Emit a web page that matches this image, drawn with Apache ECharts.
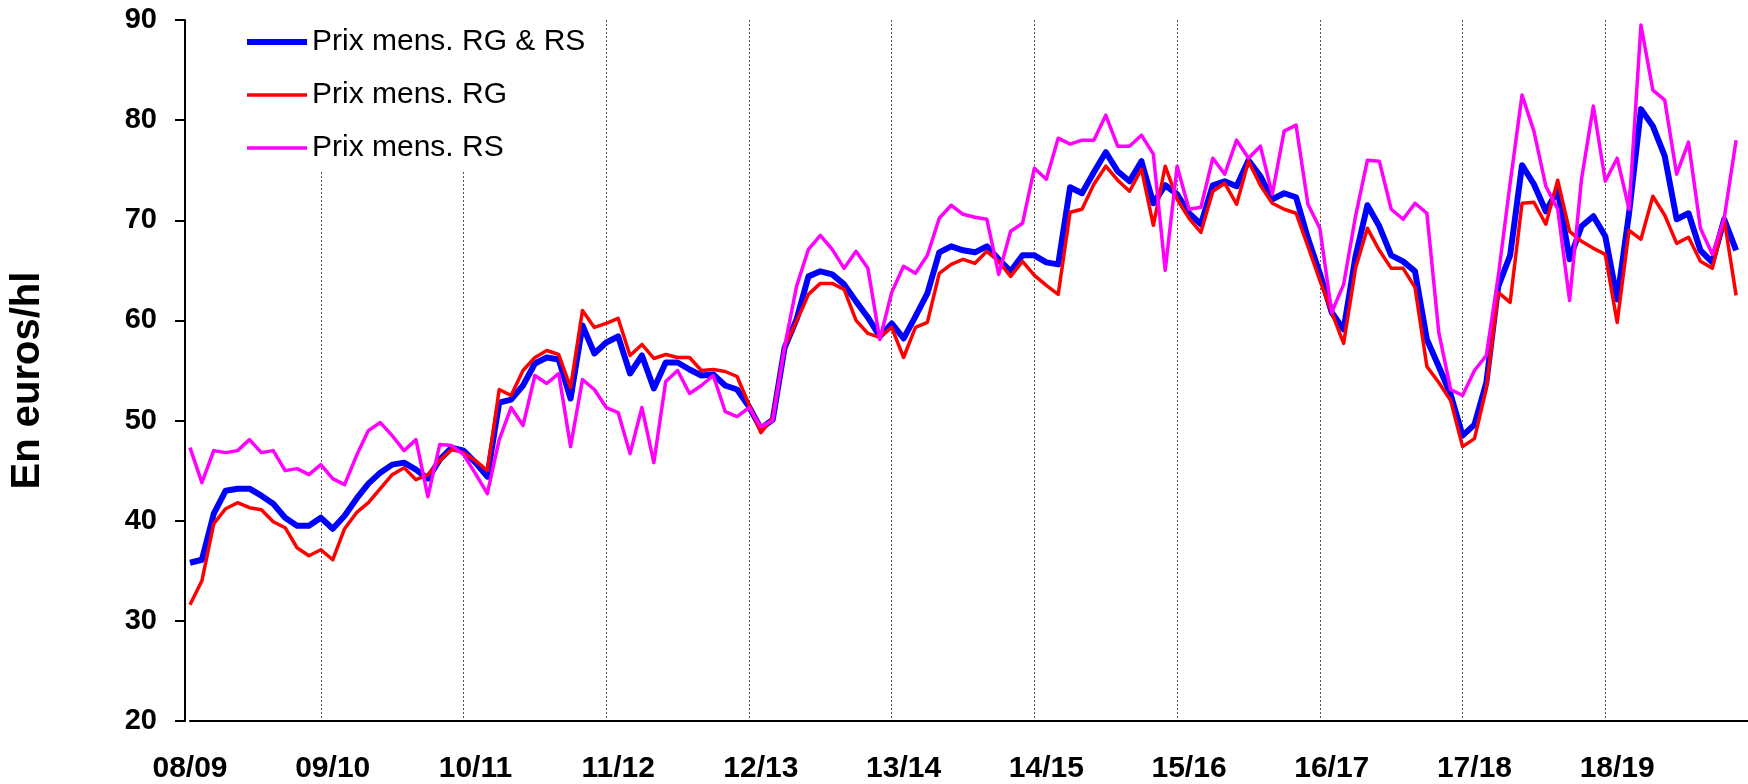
<!DOCTYPE html>
<html>
<head>
<meta charset="utf-8">
<title>Prix mensuels RG / RS</title>
<script src="https://cdn.jsdelivr.net/npm/echarts@6/dist/echarts.min.js"></script>
<style>
    html, body { margin: 0; padding: 0; background: #fff; }
    #chart-container { width: 1748px; height: 784px; }
</style>
</head>
<body>
<div id="chart-container"></div>
<script>
// Season labels shown on the x axis, one every 12 months
const seasons = ['08/09', '09/10', '10/11', '11/12', '12/13', '13/14', '14/15', '15/16', '16/17', '17/18', '18/19'];

// Monthly prices, euros/hl
const prixRgRs = [
    35.8, 36.1, 40.7, 43.0, 43.2, 43.2, 42.5, 41.7, 40.3, 39.5, 39.5, 40.3,
    39.2, 40.5, 42.2, 43.7, 44.8, 45.6, 45.8, 45.1, 44.2, 46.1, 47.3, 47.0,
    45.8, 44.4, 51.8, 52.1, 53.5, 55.7, 56.3, 56.1, 52.2, 59.5, 56.7, 57.8,
    58.4, 54.7, 56.5, 53.2, 55.8, 55.8, 55.1, 54.5, 54.6, 53.5, 53.1, 51.4,
    49.2, 50.1, 57.3, 60.1, 64.4, 64.9, 64.6, 63.6, 61.9, 60.3, 58.4, 59.7,
    58.2, 60.4, 62.7, 66.8, 67.4, 67.0, 66.8, 67.4, 66.1, 64.9, 66.5, 66.5,
    65.8, 65.6, 73.3, 72.7, 74.8, 76.8, 74.9, 73.9, 75.9, 71.7, 73.5, 72.6,
    70.7, 69.6, 73.5, 73.9, 73.4, 76.0, 74.4, 72.1, 72.7, 72.3, 68.2, 64.7,
    60.8, 59.1, 66.4, 71.5, 69.4, 66.5, 65.9, 64.9, 58.1, 55.4, 52.6, 48.5,
    49.6, 53.8, 63.4, 66.5, 75.5, 73.6, 70.9, 73.0, 66.1, 69.4, 70.4, 68.4,
    62.1, 70.7, 81.1, 79.4, 76.4, 70.1, 70.7, 67.0, 65.8, 70.1, 67.0
];

const prixRg = [
    31.6, 34.0, 39.7, 41.2, 41.8, 41.3, 41.1, 39.9, 39.3, 37.3, 36.5, 37.1,
    36.1, 39.2, 40.8, 41.8, 43.2, 44.6, 45.3, 44.1, 44.6, 46.0, 47.1, 46.8,
    46.0, 45.0, 53.1, 52.5, 55.0, 56.3, 57.0, 56.6, 53.3, 61.0, 59.3, 59.7,
    60.2, 56.5, 57.6, 56.2, 56.6, 56.3, 56.3, 55.0, 55.1, 54.9, 54.4, 51.6,
    48.8, 50.3, 57.4, 59.9, 62.6, 63.7, 63.7, 63.1, 60.0, 58.7, 58.3, 59.3,
    56.3, 59.3, 59.8, 64.7, 65.6, 66.1, 65.7, 66.9, 65.9, 64.4, 65.9, 64.5,
    63.5, 62.6, 70.8, 71.1, 73.6, 75.4, 74.0, 72.9, 75.1, 69.5, 75.4, 72.1,
    70.2, 68.8, 72.9, 73.7, 71.6, 75.9, 73.5, 71.7, 71.1, 70.7, 67.4, 64.0,
    60.8, 57.7, 65.2, 69.2, 67.0, 65.2, 65.2, 63.3, 55.4, 53.8, 52.0, 47.4,
    48.2, 53.2, 62.8, 61.8, 71.7, 71.8, 69.6, 74.0, 68.9, 67.9, 67.2, 66.6,
    59.8, 69.0, 68.1, 72.4, 70.5, 67.7, 68.3, 65.9, 65.2, 70.1, 62.5
];

const prixRs = [
    47.3, 43.8, 47.0, 46.8, 47.0, 48.1, 46.8, 47.0, 45.0, 45.2, 44.6, 45.6,
    44.2, 43.6, 46.5, 49.0, 49.8, 48.5, 47.0, 48.1, 42.4, 47.6, 47.5, 46.6,
    44.7, 42.7, 48.1, 51.3, 49.5, 54.5, 53.7, 54.7, 47.4, 54.1, 53.1, 51.3,
    50.8, 46.7, 51.3, 45.8, 53.9, 55.0, 52.7, 53.5, 54.5, 50.9, 50.4, 51.3,
    49.4, 50.0, 57.4, 63.4, 67.1, 68.5, 67.1, 65.2, 66.9, 65.2, 58.1, 62.8,
    65.4, 64.7, 66.5, 70.2, 71.5, 70.6, 70.3, 70.1, 64.6, 68.9, 69.7, 75.2,
    74.1, 78.2, 77.6, 78.0, 78.0, 80.5, 77.4, 77.4, 78.5, 76.6, 65.0, 75.4,
    71.1, 71.3, 76.2, 74.6, 78.0, 76.2, 77.4, 72.6, 78.9, 79.5, 71.6, 69.2,
    60.8, 63.6, 70.4, 76.0, 75.9, 71.1, 70.1, 71.7, 70.7, 58.8, 53.1, 52.5,
    55.0, 56.5, 64.4, 73.7, 82.5, 78.9, 73.4, 71.1, 62.0, 74.1, 81.4, 73.9,
    76.2, 71.1, 89.5, 83.0, 82.0, 74.6, 77.8, 69.2, 66.6, 70.2, 78.0
];

const FONT = "'Liberation Sans', Arial, sans-serif";

// one category per month, 12 per season
const months = [];
seasons.forEach((s) => {
    for (let m = 1; m <= 12; m++) {
        months.push(s + ' - ' + m);
    }
});

// name, colour and line width of each curve
const curves = [
    { name: 'Prix mens. RG & RS', data: prixRgRs, color: '#0000ff', width: 6 },
    { name: 'Prix mens. RG', data: prixRg, color: '#ff0000', width: 3.5 },
    { name: 'Prix mens. RS', data: prixRs, color: '#ff00ff', width: 3.5 }
];

const chart = echarts.init(document.getElementById('chart-container'), null, { renderer: 'canvas' });

const cfg = {
    animation: false,
    backgroundColor: '#fff',
    grid: {
        left: 190,
        top: 20,
        width: 1572,
        height: 703
    },
    legend: {
        orient: 'vertical',
        left: 234,
        top: 17,
        padding: [10, 14, 8, 10],
        backgroundColor: '#fff',
        itemWidth: 60,
        itemHeight: 14,
        itemGap: 23,
        data: curves.map((c) => ({
            name: c.name,
            // line only, no marker dot
            itemStyle: { opacity: 0 },
            lineStyle: { width: c.width, color: c.color }
        })),
        textStyle: {
            fontFamily: FONT,
            fontSize: 30,
            lineHeight: 30,
            color: '#000'
        }
    },
    xAxis: {
        type: 'category',
        data: months,
        boundaryGap: false,
        axisLine: { lineStyle: { color: '#000', width: 2 } },
        axisTick: { show: false },
        axisLabel: {
            interval: (idx) => idx % 12 === 0,
            formatter: (val) => val.split(' - ')[0],
            fontFamily: FONT,
            fontSize: 30,
            fontWeight: 'bold',
            color: '#000',
            margin: 33
        },
        splitLine: {
            show: true,
            interval: (idx) => idx % 12 === 11,
            lineStyle: { color: '#555', width: 1, type: [2, 2] }
        }
    },
    yAxis: {
        type: 'value',
        min: 20,
        max: 90,
        interval: 10,
        offset: 5,
        name: 'En euros/hl',
        nameLocation: 'middle',
        nameRotate: 90,
        nameGap: 137,
        nameTextStyle: {
            fontFamily: FONT,
            fontSize: 40,
            fontWeight: 'bold',
            color: '#000',
            padding: [0, 20, 0, 0]
        },
        axisLine: { show: true, lineStyle: { color: '#000', width: 2 } },
        axisTick: { show: true, length: 10, lineStyle: { color: '#000', width: 2 } },
        axisLabel: {
            fontFamily: FONT,
            fontSize: 29,
            fontWeight: 'bold',
            color: '#000',
            margin: 28
        },
        splitLine: { show: false }
    },
    series: curves.map((c) => ({
        name: c.name,
        type: 'line',
        data: c.data,
        showSymbol: false,
        symbol: 'none',
        itemStyle: { color: c.color },
        lineStyle: { color: c.color, width: c.width, join: 'round' }
    }))
};

chart.setOption(cfg);
</script>
</body>
</html>
